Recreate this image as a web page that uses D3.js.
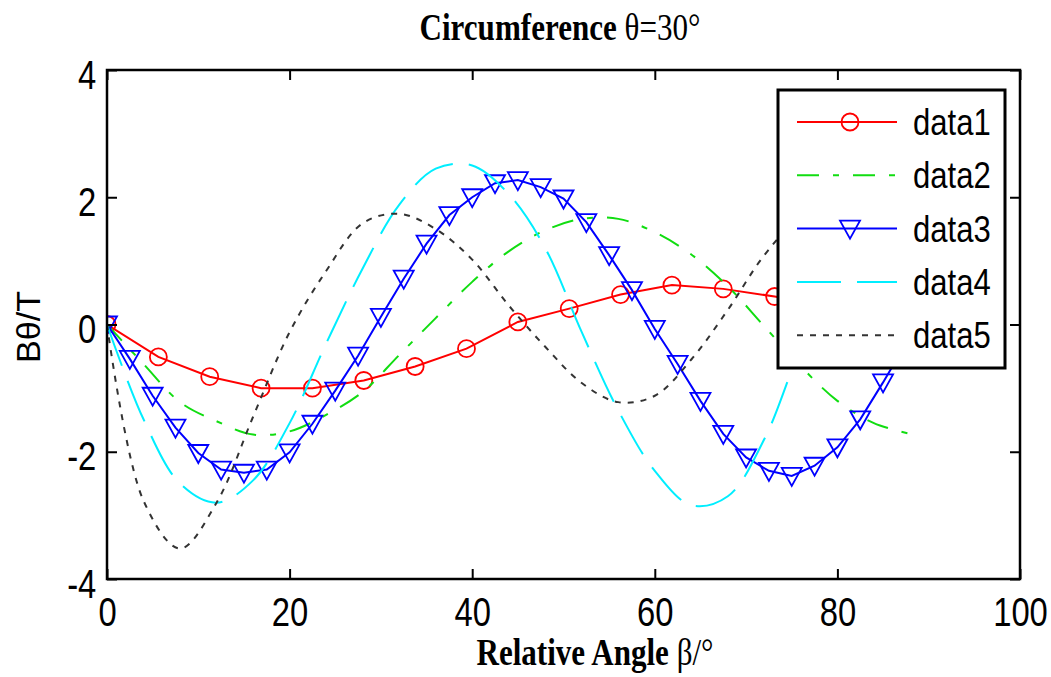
<!DOCTYPE html>
<html>
<head>
<meta charset="utf-8">
<script src="https://cdnjs.cloudflare.com/ajax/libs/d3/7.8.5/d3.min.js"></script>
<style>
  body { margin: 0; background: #fff; }
  svg { display: block; }
</style>
</head>
<body>
<div id="chart"></div>
<script>
// tick labels
var xTicks = [0, 20, 40, 60, 80, 100];
var yTicks = [-4, -2, 0, 2, 4];

// data1: red circles
var angle1 = [0, 5.625, 11.25, 16.875, 22.5, 28.125, 33.75, 39.375, 45, 50.625, 56.25, 61.875, 67.5, 73.125, 78.75, 84.375, 90];
var data1 = [0, -0.51, -0.82, -1.0, -1.0, -0.88, -0.66, -0.38, 0.04, 0.25, 0.47, 0.62, 0.56, 0.44, 0.3, 0.1, -0.1];

// data3: blue triangles
var angle3 = [0, 2.5, 5, 7.5, 10, 12.5, 15, 17.5, 20, 22.5, 25, 27.5, 30, 32.5, 35, 37.5, 40, 42.5, 45, 47.5, 50,
              52.5, 55, 57.5, 60, 62.5, 65, 67.5, 70, 72.5, 75, 77.5, 80, 82.5, 85, 87.5, 90];
var data3 = [0, -0.54, -1.12, -1.62, -2.02, -2.28, -2.33, -2.28, -2.01, -1.56, -1.04, -0.49, 0.12, 0.72, 1.27, 1.72, 2.0,
             2.22, 2.27, 2.16, 1.98, 1.61, 1.09, 0.54, -0.07, -0.62, -1.2, -1.72, -2.09, -2.3, -2.38, -2.22, -1.93,
             -1.49, -0.91, -0.3, 0.3];

// data2, data4, data5: plain lines
var angleLine = [0, 4, 8, 12, 16, 20, 24, 28, 32, 36, 40, 44, 48, 52, 56, 60, 64, 68, 72, 76, 80, 84, 88];
var data2 = [0, -0.62, -1.22, -1.52, -1.73, -1.68, -1.42, -1.06, -0.48, 0.1, 0.67, 1.15, 1.48, 1.66, 1.66, 1.45,
             1.1, 0.6, -0.03, -0.66, -1.2, -1.55, -1.72];
var data4 = [0, -1.49, -2.5, -2.8, -2.45, -1.55, -0.3, 0.88, 1.88, 2.45, 2.5, 2.05, 1.2, -0.12, -1.35, -2.3,
             -2.84, -2.7, -1.8, -0.35, 0.9, 1.9, 2.4];
var data5 = [0, -2.77, -3.52, -2.8, -1.45, -0.12, 0.84, 1.59, 1.74, 1.5, 1.02, 0.3, -0.35, -0.92, -1.22, -1.12,
             -0.55, 0.23, 1.09, 1.7, 1.95, 1.8, 1.4];

var legendNames = ["data1", "data2", "data3", "data4", "data5"];

(function () {
    var width = 1051, height = 677;
    var plotLeft = 107, plotRight = 1020, plotTop = 70, plotBottom = 579;
    var sx = 0.82; // glyphs in the picture are a bit narrow

    var svg = d3.select("#chart").append("svg")
        .attr("width", width)
        .attr("height", height);

    var x = d3.scaleLinear().domain([0, 100]).range([plotLeft, plotRight]);
    var y = d3.scaleLinear().domain([-4, 4]).range([plotBottom, plotTop]);

    // title
    var title = svg.append("text")
        .attr("transform", "translate(560,40) scale(0.84,1)")
        .attr("text-anchor", "middle")
        .attr("font-family", "'Liberation Serif', 'Times New Roman', serif")
        .attr("font-size", 37)
        .attr("fill", "#000");
    title.append("tspan").attr("font-weight", "bold").text("Circumference ");
    title.append("tspan").text("θ=30°");

    // x label
    var xlab = svg.append("text")
        .attr("transform", "translate(595,665) scale(0.84,1)")
        .attr("text-anchor", "middle")
        .attr("font-family", "'Liberation Serif', 'Times New Roman', serif")
        .attr("font-size", 37)
        .attr("fill", "#000");
    xlab.append("tspan").attr("font-weight", "bold").text("Relative Angle ");
    xlab.append("tspan").text("β/°");

    // y label
    svg.append("text")
        .attr("transform", "translate(40,327) rotate(-90)")
        .attr("text-anchor", "middle")
        .attr("font-family", "'Liberation Sans', Arial, sans-serif")
        .attr("font-size", 34)
        .attr("fill", "#000")
        .text("Bθ/T");

    // clipped plot area
    svg.append("clipPath").attr("id", "plotclip")
      .append("rect")
        .attr("x", plotLeft).attr("y", plotTop)
        .attr("width", plotRight - plotLeft).attr("height", plotBottom - plotTop);

    var plot = svg.append("g").attr("clip-path", "url(#plotclip)");

    function pairs(xs, ys) {
        return xs.map(function (v, i) { return [v, ys[i]]; });
    }

    var straight = d3.line()
        .x(function (d) { return x(d[0]); })
        .y(function (d) { return y(d[1]); });

    var smooth = d3.line()
        .x(function (d) { return x(d[0]); })
        .y(function (d) { return y(d[1]); })
        .curve(d3.curveCatmullRom);

    var series = [
        { pts: pairs(angle1, data1), color: "#ff0000", dash: null, marker: "circle", gen: straight },
        { pts: pairs(angleLine, data2), color: "#11dd11", dash: "22,14,6,14", marker: null, gen: smooth },
        { pts: pairs(angle3, data3), color: "#0000ff", dash: null, marker: "tri", gen: straight },
        { pts: pairs(angleLine, data4), color: "#00eeff", dash: "44,16", marker: null, gen: smooth },
        { pts: pairs(angleLine, data5), color: "#333333", dash: "6,7", marker: null, gen: smooth }
    ];

    var triPath = "M-10,-8L10,-8L0,10Z";

    function drawMarker(g, type, color, px, py) {
        if (type === "circle") {
            g.append("circle")
                .attr("cx", px).attr("cy", py).attr("r", 8.5)
                .attr("fill", "none").attr("stroke", color).attr("stroke-width", 1.8);
        } else if (type === "tri") {
            g.append("path")
                .attr("d", triPath)
                .attr("transform", "translate(" + px + "," + py + ")")
                .attr("fill", "none").attr("stroke", color).attr("stroke-width", 1.8);
        }
    }

    series.forEach(function (s) {
        plot.append("path")
            .attr("d", s.gen(s.pts))
            .attr("fill", "none")
            .attr("stroke", s.color)
            .attr("stroke-width", 2)
            .attr("stroke-dasharray", s.dash);
        if (s.marker) {
            s.pts.forEach(function (p) {
                drawMarker(plot, s.marker, s.color, x(p[0]), y(p[1]));
            });
        }
    });

    // axes (ticks point inward), plain hyphen for negatives
    var fontSans = "'Liberation Sans', Arial, sans-serif";
    var plain = function (d) { return String(d); };

    var gx = svg.append("g")
        .attr("transform", "translate(0," + plotBottom + ")")
        .call(d3.axisBottom(x).tickValues(xTicks).tickFormat(plain)
            .tickSizeInner(-10).tickSizeOuter(0).tickPadding(19));
    gx.selectAll("text")
        .attr("font-family", fontSans).attr("font-size", 40).attr("fill", "#000")
        .attr("transform", "scale(" + sx + ",1)");

    var gy = svg.append("g")
        .attr("transform", "translate(" + plotLeft + ",0)")
        .call(d3.axisLeft(y).tickValues(yTicks).tickFormat(plain)
            .tickSizeInner(-10).tickSizeOuter(0).tickPadding(13));
    gy.selectAll("text")
        .attr("font-family", fontSans).attr("font-size", 40).attr("fill", "#000")
        .attr("dy", "0.45em")
        .attr("transform", "scale(" + sx + ",1)");

    var gt = svg.append("g")
        .attr("transform", "translate(0," + plotTop + ")")
        .call(d3.axisTop(x).tickValues(xTicks).tickSizeInner(-10).tickSizeOuter(0).tickFormat(""));

    var gr = svg.append("g")
        .attr("transform", "translate(" + plotRight + ",0)")
        .call(d3.axisRight(y).tickValues(yTicks).tickSizeInner(-10).tickSizeOuter(0).tickFormat(""));

    [gx, gy, gt, gr].forEach(function (g) {
        g.select(".domain").remove();
        g.selectAll(".tick line").attr("stroke", "#000").attr("stroke-width", 2);
    });

    svg.append("rect")
        .attr("x", plotLeft).attr("y", plotTop)
        .attr("width", plotRight - plotLeft).attr("height", plotBottom - plotTop)
        .attr("fill", "none")
        .attr("stroke", "#000")
        .attr("stroke-width", 2.5);

    // legend
    var legend = svg.append("g");
    legend.append("rect")
        .attr("x", 778).attr("y", 90)
        .attr("width", 227).attr("height", 278)
        .attr("fill", "#fff")
        .attr("stroke", "#000")
        .attr("stroke-width", 3);

    series.forEach(function (s, i) {
        var ry = 122 + i * 53.3;
        legend.append("line")
            .attr("x1", 797).attr("x2", 897)
            .attr("y1", ry).attr("y2", ry)
            .attr("stroke", s.color)
            .attr("stroke-width", 2)
            .attr("stroke-dasharray", s.dash);
        drawMarker(legend, s.marker, s.color, 850, ry);
        legend.append("text")
            .attr("transform", "translate(913," + (ry + 13) + ") scale(0.84,1)")
            .attr("font-family", fontSans)
            .attr("font-size", 37)
            .attr("fill", "#000")
            .text(legendNames[i]);
    });
})();
</script>
</body>
</html>
